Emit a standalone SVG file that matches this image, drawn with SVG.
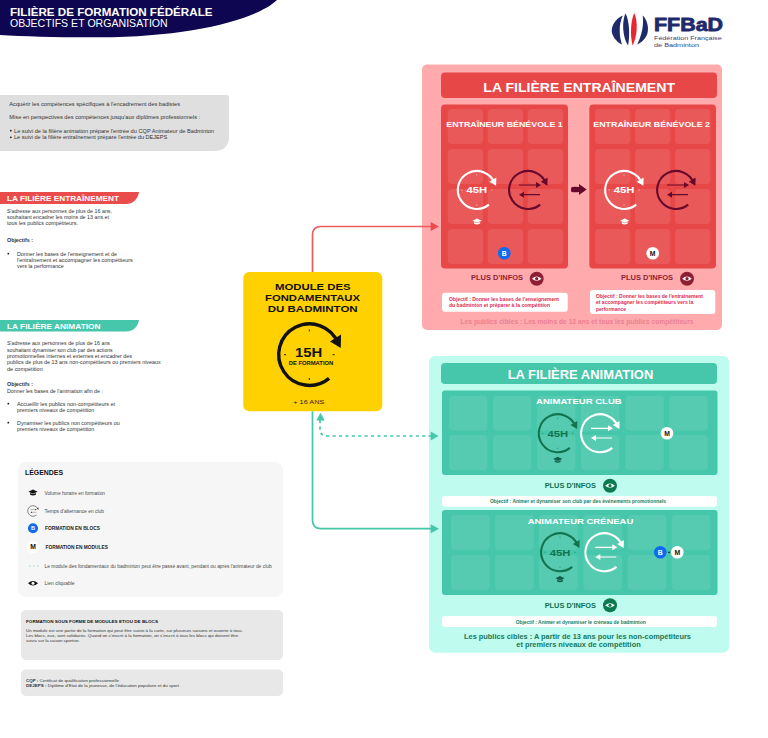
<svg xmlns="http://www.w3.org/2000/svg" width="768" height="738" viewBox="0 0 768 738">
<style>
text{font-family:"Liberation Sans",Arial,sans-serif;fill:#333}
.b{font-weight:700}
.m{text-anchor:middle}
.t5{font-size:5.3px}
.t4{font-size:4.4px}
.lg{font-size:4.8px;fill:#4a4a4a}
.hw{fill:#fff;font-weight:700}
.tr{fill:#fff;opacity:.1;rx:4px}
.tg{fill:#fff;opacity:.09;rx:4px}
.obj{fill:#fff;rx:3px}
.oe{font-size:5px;font-weight:700;fill:#dd2a50}
.oa{font-size:4.9px;font-weight:700;fill:#16805f}
.pi{font-size:6.6px;font-weight:700}
.cn{fill:none;stroke-width:1.7}
.c{fill:none;stroke:currentColor;stroke-width:2.1}
.cf{fill:currentColor}
.cs{fill:none;stroke:currentColor;stroke-width:.6}
</style>
<defs>
<g id="clock">
<path class="c" d="M12.2 14.6A19 19 0 1 1 17.8-7"/>
<path class="cf" d="M12.8-8.2L19.6-12.4 19.4-4.2Z"/>
<path class="cs" d="M0-15.6V-14.4M0 14.4V15.6M-15.6 0H-14.4M14.4 0H15.6"/>
</g>
<g id="cycle">
<path class="c" d="M12.2 14.6A19 19 0 1 1 17.8-7"/>
<path class="cf" d="M12.8-8.2L19.6-12.4 19.4-4.2Z"/>
<path class="cs" style="stroke-width:1.2" d="M-9-5H10M12 4.7H-7"/>
<path class="cf" d="M13-5L8-8V-2ZM-9 4.7L-4 1.7V7.7Z"/>
</g>
<g id="cap">
<path d="M-4.6-1L0-3.2 4.6-1 0 1.1Z"/>
<path d="M-2.9 0.2V2.1Q0 3.6 2.9 2.1V0.2L0 1.6Z"/>
</g>
<g id="badgeB">
<circle r="6.3" fill="#0d6bf0"/>
<text class="m b" y="2.4" style="font-size:6.8px;fill:#fff">B</text>
</g>
<g id="badgeM">
<circle r="6.3" fill="#fff"/>
<text class="m b" y="2.4" style="font-size:6.8px;fill:#111">M</text>
</g>
<g id="eye">
<circle r="7" fill="currentColor"/>
<path d="M-4.8 0Q0-4.2 4.8 0 0 4.2-4.8 0Z" fill="#fff"/>
<circle r="1.6" fill="currentColor"/>
</g>
</defs>

<rect width="768" height="738" fill="#fff"/>

<g id="header">
<path d="M0 0H277C256 20 190 37 100 37.3 60 37.5 25 36.5 0 35Z" fill="#0e0650"/>
<text class="hw" x="10" y="15.6" textLength="202.5" lengthAdjust="spacingAndGlyphs" style="font-size:11px">FILIÈRE DE FORMATION FÉDÉRALE</text>
<text x="10" y="27.3" textLength="157.7" lengthAdjust="spacingAndGlyphs" style="font-size:11px;fill:#fff">OBJECTIFS ET ORGANISATION</text>
</g>

<g id="logo">
<path d="M622.8 15.5C615 19 610.6 27 612 33 613.3 38 618 43 622 44.5 619.5 37 618.2 25 622.8 15.5Z" fill="#1f2a6b"/>
<path d="M625.5 13.3C622 21 622 36 628 45.5 630 36 629.5 21 625.5 13.3Z" fill="#1f2a6b"/>
<path d="M634.3 13C630.5 21 630 36 632.6 45.5 637.6 36 638 21 634.3 13Z" fill="#e8262d"/>
<path d="M642.7 15.5C647.5 20 649 28 647.4 33.5 646 38.5 641 43 637.2 44.5 641.5 36 644 26 642.7 15.5Z" fill="#1f2a6b"/>
<text class="b" x="654" y="30.5" textLength="69" lengthAdjust="spacingAndGlyphs" style="font-size:18px;fill:#1f2a6b;stroke:#1f2a6b;stroke-width:.8">FFBaD</text>
<text x="654" y="40" textLength="67.7" lengthAdjust="spacingAndGlyphs" style="font-size:6px;fill:#3a4278">Fédération Française</text>
<text x="654" y="47" textLength="45" lengthAdjust="spacingAndGlyphs" style="font-size:6px;fill:#3a4278">de Badminton</text>
</g>

<g id="intro">
<path d="M0 95H226Q229 95 229 98V136Q229 151 214 151H0Z" fill="#dfdfdf"/>
<text class="t5" x="9.3" y="105.5" textLength="170.7" lengthAdjust="spacingAndGlyphs">Acquérir les compétences spécifiques à l'encadrement des badistes</text>
<text class="t5" x="9.3" y="119.1" textLength="191" lengthAdjust="spacingAndGlyphs">Mise en perspectives des compétences jusqu'aux diplômes professionnels :</text>
<circle cx="10.8" cy="130.7" r=".9" fill="#222"/>
<circle cx="10.8" cy="137.3" r=".9" fill="#222"/>
<text class="t5" x="14" y="132.5" textLength="200" lengthAdjust="spacingAndGlyphs">Le suivi de la filière animation prépare l'entrée du CQP Animateur de Badminton</text>
<text class="t5" x="14" y="139.1" textLength="153.3" lengthAdjust="spacingAndGlyphs">Le suivi de la filière entraînement prépare l'entrée du DEJEPS</text>
</g>

<g id="section-entrainement">
<path d="M0 192H139C138 198 134 204 126 204H0Z" fill="#ea4c4c"/>
<text class="hw" x="7" y="201.3" textLength="112" lengthAdjust="spacingAndGlyphs" style="font-size:8px">LA FILIÈRE ENTRAÎNEMENT</text>
<text class="t5" x="7" y="212.5" textLength="105" lengthAdjust="spacingAndGlyphs">S'adresse aux personnes de plus de 16 ans,</text>
<text class="t5" x="7" y="218.8" textLength="102" lengthAdjust="spacingAndGlyphs">souhaitant encadrer les moins de 13 ans et</text>
<text class="t5" x="7" y="225.1" textLength="71" lengthAdjust="spacingAndGlyphs">tous les publics compétiteurs.</text>
<text class="t5 b" x="7" y="241.8" textLength="26" lengthAdjust="spacingAndGlyphs">Objectifs :</text>
<circle cx="8.3" cy="253.7" r=".9" fill="#222"/>
<text class="t5" x="17" y="255.5" textLength="100" lengthAdjust="spacingAndGlyphs">Donner les bases de l'enseignement et de</text>
<text class="t5" x="17" y="261.6" textLength="115.7" lengthAdjust="spacingAndGlyphs">l'entraînement et accompagner les compétiteurs</text>
<text class="t5" x="17" y="267.8" textLength="46.7" lengthAdjust="spacingAndGlyphs">vers la performance</text>
</g>

<g id="section-animation">
<path d="M0 320H139C138 326 134 331.5 126 331.5H0Z" fill="#46c6ab"/>
<text class="hw" x="7" y="328.8" textLength="93.5" lengthAdjust="spacingAndGlyphs" style="font-size:8px">LA FILIÈRE ANIMATION</text>
<text class="t5" x="7" y="345.1" textLength="103" lengthAdjust="spacingAndGlyphs">S'adresse aux personnes de plus de 16 ans</text>
<text class="t5" x="7" y="351.5" textLength="105.7" lengthAdjust="spacingAndGlyphs">souhaitant dynamiser son club par des actions</text>
<text class="t5" x="7" y="357.8" textLength="125" lengthAdjust="spacingAndGlyphs">promotionnelles internes et externes et encadrer des</text>
<text class="t5" x="7" y="364.1" textLength="153.7" lengthAdjust="spacingAndGlyphs">publics de plus de 13 ans non-compétiteurs ou premiers niveaux</text>
<text class="t5" x="7" y="370.8" textLength="35.7" lengthAdjust="spacingAndGlyphs">de compétition</text>
<text class="t5 b" x="7" y="386.1" textLength="26" lengthAdjust="spacingAndGlyphs">Objectifs :</text>
<text class="t5" x="7" y="392.5" textLength="96" lengthAdjust="spacingAndGlyphs">Donner les bases de l'animation afin de :</text>
<circle cx="8.3" cy="403.7" r=".9" fill="#222"/>
<text class="t5" x="17" y="405.5" textLength="98" lengthAdjust="spacingAndGlyphs">Accueillir les publics non-compétiteurs et</text>
<text class="t5" x="17" y="411.8" textLength="77.3" lengthAdjust="spacingAndGlyphs">premiers niveaux de compétition</text>
<circle cx="8.3" cy="422.7" r=".9" fill="#222"/>
<text class="t5" x="17" y="424.5" textLength="102.7" lengthAdjust="spacingAndGlyphs">Dynamiser les publics non compétiteurs ou</text>
<text class="t5" x="17" y="430.8" textLength="77.3" lengthAdjust="spacingAndGlyphs">premiers niveaux de compétition</text>
</g>

<g id="module">
<rect x="243.3" y="272" width="139" height="139.3" rx="6" fill="#ffd100"/>
<text class="b" x="275" y="290" textLength="75.7" lengthAdjust="spacingAndGlyphs" style="font-size:9.4px;fill:#111">MODULE DES</text>
<text class="b" x="265" y="301" textLength="95" lengthAdjust="spacingAndGlyphs" style="font-size:9.4px;fill:#111">FONDAMENTAUX</text>
<text class="b" x="267.7" y="312" textLength="90" lengthAdjust="spacingAndGlyphs" style="font-size:9.4px;fill:#111">DU BADMINTON</text>
<use href="#clock" transform="translate(309.3 354.7) scale(1.62)" color="#111"/>
<text class="b" x="295" y="356.6" textLength="27.3" lengthAdjust="spacingAndGlyphs" style="font-size:12.5px;fill:#111">15H</text>
<text class="b" x="288.7" y="364.6" textLength="44.6" lengthAdjust="spacingAndGlyphs" style="font-size:4.6px;fill:#111">DE FORMATION</text>
<text x="293.3" y="404" textLength="31" lengthAdjust="spacingAndGlyphs" style="font-size:6px;fill:#222">+ 16 ANS</text>
</g>

<g id="filiere-entrainement">
<rect x="422" y="64.5" width="300" height="265.5" rx="5" fill="#ffabae"/>
<rect x="441" y="72.5" width="276" height="25.5" rx="4" fill="#e84747"/>
<text class="hw" x="483.3" y="91.6" textLength="191.7" lengthAdjust="spacingAndGlyphs" style="font-size:13.5px">LA FILIÈRE ENTRAÎNEMENT</text>
<text x="460.5" y="324" textLength="233" lengthAdjust="spacingAndGlyphs" style="font-size:7px;font-weight:700;fill:#ec7f92">Les publics cibles : Les moins de 13 ans et tous les publics compétiteurs</text>
</g>

<g id="entraineur-1">
<rect x="441" y="104.5" width="127" height="164" rx="4" fill="#e84747"/>
<rect class="tr" x="447.7" y="109" width="35.3" height="35"/><rect class="tr" x="487.7" y="109" width="35.3" height="35"/><rect class="tr" x="527.7" y="109" width="35.3" height="35"/>
<rect class="tr" x="447.7" y="149" width="35.3" height="35"/><rect class="tr" x="487.7" y="149" width="35.3" height="35"/><rect class="tr" x="527.7" y="149" width="35.3" height="35"/>
<rect class="tr" x="447.7" y="189" width="35.3" height="35"/><rect class="tr" x="487.7" y="189" width="35.3" height="35"/><rect class="tr" x="527.7" y="189" width="35.3" height="35"/>
<rect class="tr" x="447.7" y="229" width="35.3" height="35"/><rect class="tr" x="487.7" y="229" width="35.3" height="35"/><rect class="tr" x="527.7" y="229" width="35.3" height="35"/>
<text class="hw" x="446.3" y="127.3" textLength="116.4" lengthAdjust="spacingAndGlyphs" style="font-size:8px">ENTRAÎNEUR BÉNÉVOLE 1</text>
<use href="#clock" x="476.7" y="190" color="#fff"/>
<text class="hw" x="466.4" y="193.2" textLength="20.6" lengthAdjust="spacingAndGlyphs" style="font-size:8.8px">45H</text>
<use href="#cycle" x="528" y="190" color="#66092d"/>
<use href="#cap" x="477" y="221.7" fill="#fff"/>
<use href="#badgeB" x="504.3" y="253.3"/>
<text class="pi" x="471" y="280.4" textLength="52" lengthAdjust="spacingAndGlyphs" style="fill:#8e1f33">PLUS D'INFOS</text>
<use href="#eye" x="536.7" y="278.7" color="#8e1f33"/>
<rect class="obj" x="442" y="292.7" width="125.7" height="19"/>
<text class="oe" x="449" y="300.7" textLength="110" lengthAdjust="spacingAndGlyphs">Objectif : Donner les bases de l'enseignement</text>
<text class="oe" x="449" y="306.8" textLength="101" lengthAdjust="spacingAndGlyphs">du badminton et préparer à la compétition</text>
</g>

<g id="entraineur-2">
<rect x="589.3" y="104.5" width="126.7" height="164" rx="4" fill="#e84747"/>
<rect class="tr" x="595" y="109" width="35.3" height="35"/><rect class="tr" x="635" y="109" width="35.3" height="35"/><rect class="tr" x="675" y="109" width="35.3" height="35"/>
<rect class="tr" x="595" y="149" width="35.3" height="35"/><rect class="tr" x="635" y="149" width="35.3" height="35"/><rect class="tr" x="675" y="149" width="35.3" height="35"/>
<rect class="tr" x="595" y="189" width="35.3" height="35"/><rect class="tr" x="635" y="189" width="35.3" height="35"/><rect class="tr" x="675" y="189" width="35.3" height="35"/>
<rect class="tr" x="595" y="229" width="35.3" height="35"/><rect class="tr" x="635" y="229" width="35.3" height="35"/><rect class="tr" x="675" y="229" width="35.3" height="35"/>
<text class="hw" x="593.3" y="127.3" textLength="116.7" lengthAdjust="spacingAndGlyphs" style="font-size:8px">ENTRAÎNEUR BÉNÉVOLE 2</text>
<use href="#clock" x="624" y="190" color="#fff"/>
<text class="hw" x="613.7" y="193.2" textLength="20.6" lengthAdjust="spacingAndGlyphs" style="font-size:8.8px">45H</text>
<use href="#cycle" x="676" y="190" color="#66092d"/>
<use href="#cap" x="624.7" y="221.7" fill="#fff"/>
<use href="#badgeM" x="652.7" y="253.3"/>
<text class="pi" x="621" y="280.4" textLength="52" lengthAdjust="spacingAndGlyphs" style="fill:#8e1f33">PLUS D'INFOS</text>
<use href="#eye" x="687" y="278.7" color="#8e1f33"/>
<rect class="obj" x="590" y="290" width="125.3" height="24"/>
<text class="oe" x="596" y="297.8" textLength="107" lengthAdjust="spacingAndGlyphs">Objectif : Donner les bases de l'entraînement</text>
<text class="oe" x="596" y="304.1" textLength="97.3" lengthAdjust="spacingAndGlyphs">et accompagner les compétiteurs vers la</text>
<text class="oe" x="596" y="310.5" textLength="30" lengthAdjust="spacingAndGlyphs">performance</text>
</g>

<g id="progression">
<path d="M571.5 187Q575 186.5 579 187V184L586.7 189.5 579 195V192Q575 192.5 571.5 192Q570.5 189.5 571.5 187Z" fill="#66092d"/>
</g>

<g id="filiere-animation">
<rect x="429" y="356" width="300" height="296.7" rx="6" fill="#bffbee"/>
<rect x="441" y="363" width="276" height="21" rx="4" fill="#46c6ab"/>
<text class="hw" x="507.7" y="378.8" textLength="145.6" lengthAdjust="spacingAndGlyphs" style="font-size:13px">LA FILIÈRE ANIMATION</text>
<text x="464" y="638.6" textLength="227" lengthAdjust="spacingAndGlyphs" style="font-size:7.3px;font-weight:700;fill:#15795b">Les publics cibles : A partir de 13 ans pour les non-compétiteurs</text>
<text x="516.3" y="646.9" textLength="124.4" lengthAdjust="spacingAndGlyphs" style="font-size:7.3px;font-weight:700;fill:#15795b">et premiers niveaux de compétition</text>
</g>

<g id="animateur-club">
<rect x="442" y="390.5" width="275.5" height="84.5" rx="3" fill="#46c6ab"/>
<rect class="tg" x="449" y="395.7" width="38.5" height="35"/><rect class="tg" x="493" y="395.7" width="38.5" height="35"/><rect class="tg" x="537" y="395.7" width="38.5" height="35"/><rect class="tg" x="581" y="395.7" width="38.5" height="35"/><rect class="tg" x="625.3" y="395.7" width="38.5" height="35"/><rect class="tg" x="669.3" y="395.7" width="38.5" height="35"/>
<rect class="tg" x="449" y="435" width="38.5" height="35"/><rect class="tg" x="493" y="435" width="38.5" height="35"/><rect class="tg" x="537" y="435" width="38.5" height="35"/><rect class="tg" x="581" y="435" width="38.5" height="35"/><rect class="tg" x="625.3" y="435" width="38.5" height="35"/><rect class="tg" x="669.3" y="435" width="38.5" height="35"/>
<text class="hw" x="536" y="403.8" textLength="85.7" lengthAdjust="spacingAndGlyphs" style="font-size:8px">ANIMATEUR CLUB</text>
<use href="#clock" x="557.7" y="433.3" color="#12744f"/>
<text class="b" x="547.4" y="436.5" textLength="20.6" lengthAdjust="spacingAndGlyphs" style="font-size:8.8px;fill:#12744f">45H</text>
<use href="#cycle" x="600" y="433.3" color="#fff"/>
<use href="#cap" x="557.7" y="460" fill="#12604a"/>
<use href="#badgeM" x="667" y="433.3"/>
<text class="pi" x="544.7" y="488" textLength="51.3" lengthAdjust="spacingAndGlyphs" style="fill:#0f7050">PLUS D'INFOS</text>
<use href="#eye" x="610" y="485.7" color="#0b7a50"/>
<rect class="obj" x="442" y="496" width="275" height="10.8"/>
<text class="oa" x="490" y="503.4" textLength="176" lengthAdjust="spacingAndGlyphs">Objectif : Animer et dynamiser son club par des événements promotionnels</text>
</g>

<g id="animateur-creneau">
<rect x="442" y="510" width="275.5" height="85" rx="3" fill="#46c6ab"/>
<rect class="tg" x="451" y="515" width="38.7" height="35"/><rect class="tg" x="495" y="515" width="38.7" height="35"/><rect class="tg" x="539" y="515" width="38.7" height="35"/><rect class="tg" x="583.3" y="515" width="38.7" height="35"/><rect class="tg" x="627.7" y="515" width="38.7" height="35"/><rect class="tg" x="671.7" y="515" width="38.7" height="35"/>
<rect class="tg" x="451" y="555" width="38.7" height="35"/><rect class="tg" x="495" y="555" width="38.7" height="35"/><rect class="tg" x="539" y="555" width="38.7" height="35"/><rect class="tg" x="583.3" y="555" width="38.7" height="35"/><rect class="tg" x="627.7" y="555" width="38.7" height="35"/><rect class="tg" x="671.7" y="555" width="38.7" height="35"/>
<text class="hw" x="527.7" y="524" textLength="105.6" lengthAdjust="spacingAndGlyphs" style="font-size:8px">ANIMATEUR CRÉNEAU</text>
<use href="#clock" x="560" y="552.3" color="#12744f"/>
<text class="b" x="549.7" y="555.5" textLength="20.6" lengthAdjust="spacingAndGlyphs" style="font-size:8.8px;fill:#12744f">45H</text>
<use href="#cycle" x="604.3" y="552.3" color="#fff"/>
<use href="#cap" x="560" y="579.3" fill="#12604a"/>
<use href="#badgeB" x="660.3" y="552.3"/>
<circle cx="669" cy="552.3" r=".9" fill="#111"/>
<use href="#badgeM" x="677.3" y="552.3"/>
<text class="pi" x="544.7" y="607.6" textLength="51.3" lengthAdjust="spacingAndGlyphs" style="fill:#0f7050">PLUS D'INFOS</text>
<use href="#eye" x="610" y="605.3" color="#0b7a50"/>
<rect class="obj" x="442" y="616" width="275" height="11"/>
<text class="oa" x="515.7" y="623.7" textLength="130" lengthAdjust="spacingAndGlyphs">Objectif : Animer et dynamiser le créneau de badminton</text>
</g>

<g id="connectors">
<path class="cn" stroke="#ee5b5b" d="M312.5 272V235Q312.5 226.5 321 226.5H431"/>
<path d="M439 226.5L430.7 222V231Z" fill="#ea4c4c"/>
<path class="cn" stroke="#46c6ab" d="M312.5 411.3V520Q312.5 528.7 321 528.7H431"/>
<path d="M439 528.7L430.7 524.2V533.2Z" fill="#46c6ab"/>
<path class="cn" stroke="#46c6ab" stroke-dasharray="3.2 3.2" d="M320 420V429Q320 436 327 436H431"/>
<path d="M438.5 436L430.7 431.5V440.5Z" fill="#46c6ab"/>
<path d="M320.5 412.8L316.3 420.5H324.7Z" fill="#46c6ab"/>
</g>

<g id="legendes">
<rect x="18" y="462" width="265" height="135" rx="8" fill="#f6f6f6"/>
<text class="b" x="25" y="474.5" textLength="38" lengthAdjust="spacingAndGlyphs" style="font-size:6.5px;fill:#111">LÉGENDES</text>
<use href="#cap" x="33" y="492.7" fill="#111"/>
<text class="lg" x="44.5" y="494.5" textLength="60.5" lengthAdjust="spacingAndGlyphs">Volume horaire en formation</text>
<g transform="translate(33 511) scale(.28)" color="#333"><use href="#cycle"/></g>
<text class="lg" x="44.5" y="512.8" textLength="59.5" lengthAdjust="spacingAndGlyphs">Temps d'alternance en club</text>
<g transform="translate(33 528.3) scale(.8)"><use href="#badgeB"/></g>
<text class="b" x="45" y="530" textLength="55" lengthAdjust="spacingAndGlyphs" style="font-size:4.6px;fill:#222">FORMATION EN BLOCS</text>
<use href="#badgeM" x="33" y="547"/>
<text class="b" x="45.5" y="548.8" textLength="62.5" lengthAdjust="spacingAndGlyphs" style="font-size:4.6px;fill:#222">FORMATION EN MODULES</text>
<path d="M29 566H39" fill="none" stroke="#7fe0c8" stroke-width="1" stroke-dasharray="1.6 2.4"/>
<text class="lg" x="44.5" y="567.8" textLength="227.2" lengthAdjust="spacingAndGlyphs">Le module des fondamentaux du badminton peut être passé avant, pendant ou après l'animateur de club</text>
<g transform="translate(33 583.3)"><path d="M-5 0Q0-4.5 5 0 0 4.5-5 0Z" fill="#111"/><circle r="1.5" fill="#fff"/></g>
<text class="lg" x="44.5" y="585.1" textLength="30" lengthAdjust="spacingAndGlyphs">Lien cliquable</text>
</g>

<g id="note-modules">
<rect x="21" y="610" width="262" height="50" rx="5" fill="#e8e8e8"/>
<text class="b" x="26" y="622.6" textLength="132" lengthAdjust="spacingAndGlyphs" style="font-size:4.4px;fill:#111">FORMATION SOUS FORME DE MODULES ET/OU DE BLOCS</text>
<text class="t4" x="26" y="632.3" textLength="217" lengthAdjust="spacingAndGlyphs">Un module est une partie de la formation qui peut être suivie à la carte, sur plusieurs saisons et ouverte à tous.</text>
<text class="t4" x="26" y="636.9" textLength="212.3" lengthAdjust="spacingAndGlyphs">Les blocs, eux, sont solidaires. Quand on s'inscrit à la formation, on s'inscrit à tous les blocs qui doivent être</text>
<text class="t4" x="26" y="641.6" textLength="54" lengthAdjust="spacingAndGlyphs">suivis sur la saison sportive.</text>
</g>

<g id="note-sigles">
<rect x="21" y="669.5" width="262" height="26.5" rx="5" fill="#e8e8e8"/>
<text class="t4" x="26" y="682.3" textLength="93" lengthAdjust="spacingAndGlyphs"><tspan class="b">CQP :</tspan> Certificat de qualification professionnelle</text>
<text class="t4" x="26" y="686.9" textLength="153" lengthAdjust="spacingAndGlyphs"><tspan class="b">DEJEPS :</tspan> Diplôme d'Etat de la jeunesse, de l'éducation populaire et du sport</text>
</g>
</svg>
